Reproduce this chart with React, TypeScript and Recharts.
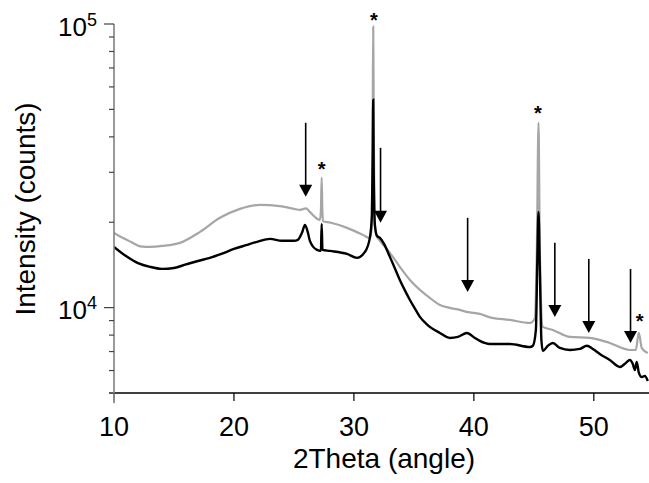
import React from 'react';
import { LineChart, Line, XAxis, YAxis, ReferenceLine, ReferenceDot } from 'recharts';

const FONT = '"Liberation Sans", Arial, Helvetica, sans-serif';

// [2Theta, counts] — upper (grey) pattern
const greyPattern: [number, number][] = [
  [10, 18350], [10.75, 17600], [11.4, 17060], [12.2, 16450], [13, 16380], [14, 16500],
  [15.5, 16920], [17.17, 18500], [18.83, 20730], [20.5, 22300], [22.17, 23040], [23.83, 22800],
  [25, 22300], [25.5, 22120],
  [26, 22380], [26.3, 21800], [27.17, 20390], [27.25, 22000], [27.31, 28690], [27.37, 22000],
  [27.42, 20160], [28, 19950], [29.42, 19110], [30.75, 18050], [31.33, 17560], [31.5, 19500],
  [31.57, 50000], [31.61, 97830], [31.65, 50000], [31.72, 20000], [31.92, 17800], [32.17, 17200],
  [33, 15600], [33.83, 13920], [34.67, 12520], [35.5, 11550], [36.33, 10820], [37.17, 10220],
  [38, 9975], [38.83, 9820], [39.42, 9656], [40.5, 9501], [41.33, 9240], [43, 9050],
  [44.67, 8830], [45.08, 9160], [45.25, 15980], [45.39, 44840], [45.5, 15980], [45.75, 8550],
  [46.58, 8343], [48, 7882], [49.67, 7818], [51.33, 7507], [53, 7090], [53.5, 7090],
  [53.75, 8142], [54, 7200], [54.5, 6921],
];

// lower (black) pattern
const blackPattern: [number, number][] = [
  [10, 16380], [11, 15200], [12, 14350], [13, 13920], [14, 13700], [15, 13800],
  [16, 14200], [17, 14600], [18, 14980], [19, 15500], [20, 16100], [21, 16600],
  [22, 17100], [23, 17480], [24, 17200], [25, 17200], [25.33, 17340], [25.67, 18350],
  [25.92, 19580], [26.17, 18350], [26.33, 17200], [26.92, 15980], [27.25, 15850], [27.31, 19740],
  [27.38, 15980], [28, 15850], [29.42, 15470], [30.25, 14980], [30.92, 15720], [31.33, 17620],
  [31.5, 21240], [31.57, 35000], [31.61, 54060], [31.65, 30000], [31.75, 19580], [31.92, 17910],
  [32.17, 17620], [32.5, 16810], [33, 15100], [33.4, 13800], [33.83, 12520], [34.25, 11500],
  [34.67, 10640], [35.1, 9900], [35.5, 9273], [36, 8800], [36.33, 8550], [37.17, 8142],
  [38, 7818], [38.67, 7882], [39.42, 8142], [40.08, 7818], [40.5, 7630], [41.33, 7445],
  [43, 7445], [44.67, 7266], [44.92, 7340], [45.17, 8343], [45.29, 14740], [45.39, 21760],
  [45.5, 13580], [45.63, 7690], [45.75, 7034], [46.17, 7340], [46.58, 7507], [47.17, 7207],
  [48, 7090], [48.83, 7150], [49.42, 7340], [49.92, 7150], [50.5, 6865], [51.33, 6538],
  [52.17, 6177], [52.67, 6381], [53, 6538], [53.25, 6330], [53.42, 6030], [53.58, 6430],
  [53.75, 5900], [54, 5693], [54.25, 5740], [54.5, 5513],
];

const xTicks = [10, 20, 30, 40, 50];
const yTicks = [6000, 7000, 8000, 9000, 10000, 20000, 30000, 40000, 50000, 60000, 70000, 80000, 90000, 100000];
const yMajor = [10000, 100000];

// arrows: angle, top of shaft, tip (counts)
const arrowAngle = [25.98, 32.22, 39.48, 46.75, 49.58, 53.06];
const arrowTop = [44840, 36590, 20730, 16920, 14850, 13690];
const arrowTip = [24580, 19900, 11360, 9273, 8142, 7507];

// asterisks
const starAngle = [31.67, 27.31, 45.33, 53.83];
const starCounts = [106980, 31870, 50240, 9273];

const greyData = greyPattern.map(([x, y]) => ({ x, y }));
const blackData = blackPattern.map(([x, y]) => ({ x, y }));

const XTick = (props: any) => {
  const { x, y, payload } = props;
  return (
    <g>
      <line x1={x} x2={x} y1={y} y2={y + 8} stroke={payload.value === 10 ? '#808080' : '#000'} strokeWidth={1.2} />
      <text x={x} y={y + 43} textAnchor="middle" fontSize={27} fontFamily={FONT} fill="#000">
        {payload.value}
      </text>
    </g>
  );
};

const YTick = (props: any) => {
  const { x, y, payload } = props;
  const v = payload.value;
  const major = yMajor.includes(v);
  return (
    <g>
      <line x1={x - (major ? 10 : 5)} x2={x} y1={y} y2={y} stroke="#444" strokeWidth={1.2} />
      {major && (
        <text x={x - 17} y={y + 11.5} textAnchor="end" fontSize={26} fontFamily={FONT} fill="#000">
          10
          <tspan fontSize={18} dy={-10}>
            {Math.round(Math.log10(v))}
          </tspan>
        </text>
      )}
    </g>
  );
};

const Arrow = (props: any) => {
  const { x1, y1, x2, y2 } = props;
  const h = 12;
  const w = 6.5;
  return (
    <g>
      <line x1={x1} y1={y1} x2={x2} y2={y2 - h + 1} stroke="#000" strokeWidth={1.6} />
      <polygon points={`${x2 - w},${y2 - h} ${x2 + w},${y2 - h} ${x2},${y2}`} fill="#000" />
    </g>
  );
};

const Star = (props: any) => {
  const { cx, cy } = props;
  return (
    <text x={cx} y={cy + 11} textAnchor="middle" fontSize={20} fontWeight="bold" fontFamily={FONT} fill="#000">
      *
    </text>
  );
};

export default function App() {
  return (
    <div style={{ position: 'absolute', left: 0, top: 0, background: '#fff' }}>
      <LineChart width={649} height={483} margin={{ top: 24, right: 0, bottom: 0, left: 0 }}>
        <XAxis
          type="number"
          dataKey="x"
          domain={[10, 54.6]}
          ticks={xTicks}
          interval={0}
          allowDataOverflow
          tick={<XTick />}
          tickLine={false}
          tickSize={0}
          tickMargin={0}
          height={90}
          axisLine={{ stroke: '#000', strokeWidth: 1.3 }}
          label={{
            content: () => (
              <text x={384} y={468} textAnchor="middle" fontSize={28} fontFamily={FONT} fill="#000">
                2Theta (angle)
              </text>
            ),
          }}
        />
        <YAxis
          type="number"
          scale="log"
          domain={[5000, 100000]}
          ticks={yTicks}
          interval={0}
          allowDataOverflow
          tick={<YTick />}
          tickLine={false}
          tickSize={0}
          tickMargin={0}
          width={114}
          axisLine={{ stroke: '#808080', strokeWidth: 1.6 }}
          label={{
            content: () => (
              <text
                transform="translate(35,209) rotate(-90)"
                textAnchor="middle"
                fontSize={28}
                fontFamily={FONT}
                fill="#000"
              >
                Intensity (counts)
              </text>
            ),
          }}
        />
        <ReferenceLine
          segment={[{ x: 10, y: 5000 }, { x: 10, y: 4600 }]}
          ifOverflow="visible"
          stroke="#808080"
          strokeWidth={1.6}
        />
        <ReferenceLine
          segment={[{ x: 9.58, y: 5000 }, { x: 10, y: 5000 }]}
          ifOverflow="visible"
          stroke="#000"
          strokeWidth={1.3}
        />
        <Line
          data={greyData}
          dataKey="y"
          type="monotone"
          stroke="#a6a6a6"
          strokeWidth={2.2}
          dot={false}
          activeDot={false}
          isAnimationActive={false}
        />
        <Line
          data={blackData}
          dataKey="y"
          type="monotone"
          stroke="#000"
          strokeWidth={2.4}
          dot={false}
          activeDot={false}
          isAnimationActive={false}
        />
        {arrowAngle.map((a, i) => (
          <ReferenceLine
            key={'arrow' + i}
            segment={[{ x: a, y: arrowTop[i] }, { x: a, y: arrowTip[i] }]}
            ifOverflow="visible"
            shape={<Arrow />}
          />
        ))}
        {starAngle.map((a, i) => (
          <ReferenceDot
            key={'star' + i}
            x={a}
            y={starCounts[i]}
            r={0}
            ifOverflow="visible"
            shape={<Star />}
          />
        ))}
      </LineChart>
    </div>
  );
}
